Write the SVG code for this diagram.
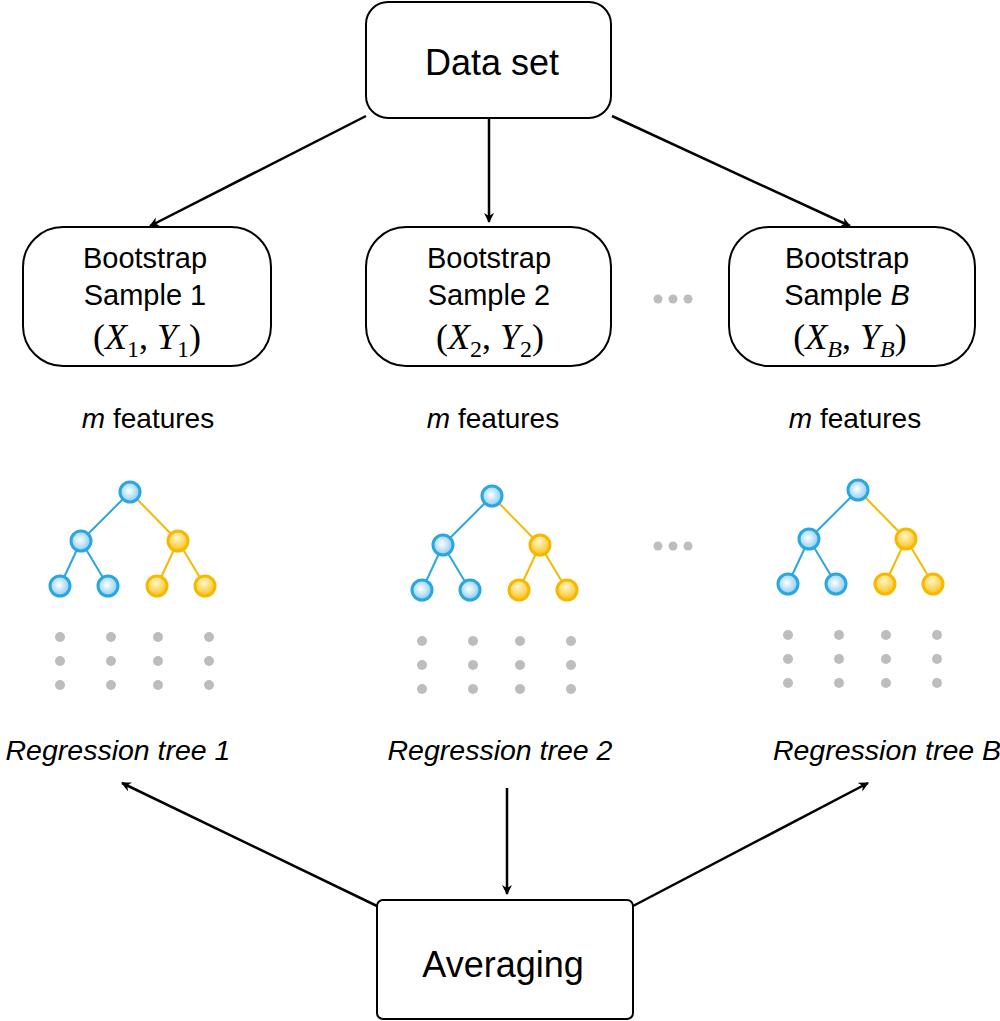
<svg xmlns="http://www.w3.org/2000/svg" width="1000" height="1021" viewBox="0 0 1000 1021">
<defs>
<marker id="ah" markerWidth="10" markerHeight="10" refX="9" refY="5" orient="auto" markerUnits="userSpaceOnUse"><path d="M0,0 L10,5 L0,10 L3,5 Z" fill="#000"/></marker>
<radialGradient id="gb" cx="0.45" cy="0.45" r="0.6"><stop offset="0" stop-color="#fff"/><stop offset="1" stop-color="#7cc8ee"/></radialGradient>
<radialGradient id="gy" cx="0.45" cy="0.35" r="0.65"><stop offset="0" stop-color="#fff6c8"/><stop offset="1" stop-color="#f8c21a"/></radialGradient>
<g id="tree">
<g fill="none" stroke-width="2"><path d="M0,0 L-49,49 M-49,49 L-70,94 M-49,49 L-22,94" stroke="#2aa6e0"/><path d="M0,0 L48,49 M48,49 L27,94 M48,49 L75,94" stroke="#f7b800"/></g>
<g stroke="#2aa6e0" stroke-width="3" fill="url(#gb)"><circle cx="0" cy="0" r="10"/><circle cx="-49" cy="49" r="10"/><circle cx="-70" cy="94" r="10"/><circle cx="-22" cy="94" r="10"/></g>
<g stroke="#f7b800" stroke-width="3" fill="url(#gy)"><circle cx="48" cy="49" r="10"/><circle cx="27" cy="94" r="10"/><circle cx="75" cy="94" r="10"/></g>
<g fill="#bdbdbd"><circle cx="-70" cy="145" r="5"/><circle cx="-19" cy="145" r="5"/><circle cx="28" cy="145" r="5"/><circle cx="79" cy="145" r="5"/><circle cx="-70" cy="169" r="5"/><circle cx="-19" cy="169" r="5"/><circle cx="28" cy="169" r="5"/><circle cx="79" cy="169" r="5"/><circle cx="-70" cy="193" r="5"/><circle cx="-19" cy="193" r="5"/><circle cx="28" cy="193" r="5"/><circle cx="79" cy="193" r="5"/></g>
</g>
</defs>
<style>
.box{fill:#fff;stroke:#000;stroke-width:2}
.t{font-family:"Liberation Sans",Arial,sans-serif;fill:#000;text-anchor:middle}
.m{font-family:"Liberation Serif","Times New Roman",serif;font-size:36px;fill:#000;text-anchor:middle}
.c{stroke:#000;stroke-width:2.5;fill:none;marker-end:url(#ah)}
</style>
<rect width="1000" height="1021" fill="#fff"/>
<g id="connectors">
<line class="c" x1="366" y1="116" x2="150" y2="226"/>
<line class="c" x1="489" y1="118" x2="489" y2="222"/>
<line class="c" x1="612" y1="116" x2="850" y2="226"/>
<line class="c" x1="377" y1="906" x2="122" y2="783"/>
<line class="c" x1="507" y1="788" x2="507" y2="894"/>
<line class="c" x1="633" y1="906" x2="868" y2="783"/>
</g>
<g id="dataset"><rect class="box" x="366" y="2" width="245" height="116" rx="22"/><text class="t" x="492" y="75" font-size="36">Data set</text></g>
<g id="b1"><rect class="box" x="23" y="227" width="248" height="139" rx="40"/><text class="t" x="145" y="268" font-size="29">Bootstrap</text><text class="t" x="145" y="305" font-size="29">Sample 1</text><text class="m" x="147" y="349">(<tspan font-style="italic">X</tspan><tspan font-size="24" dy="8">1</tspan><tspan dy="-8">, </tspan><tspan font-style="italic">Y</tspan><tspan font-size="24" dy="8">1</tspan><tspan dy="-8">)</tspan></text></g>
<g id="b2"><rect class="box" x="366" y="227" width="245" height="139" rx="40"/><text class="t" x="489" y="268" font-size="29">Bootstrap</text><text class="t" x="489" y="305" font-size="29">Sample 2</text><text class="m" x="490" y="349">(<tspan font-style="italic">X</tspan><tspan font-size="24" dy="8">2</tspan><tspan dy="-8">, </tspan><tspan font-style="italic">Y</tspan><tspan font-size="24" dy="8">2</tspan><tspan dy="-8">)</tspan></text></g>
<g id="b3"><rect class="box" x="729" y="227" width="246" height="139" rx="40"/><text class="t" x="847" y="268" font-size="29">Bootstrap</text><text class="t" x="847" y="305" font-size="29">Sample <tspan font-style="italic">B</tspan></text><text class="m" x="850" y="349">(<tspan font-style="italic">X</tspan><tspan font-size="24" font-style="italic" dy="8">B</tspan><tspan dy="-8">, </tspan><tspan font-style="italic">Y</tspan><tspan font-size="24" font-style="italic" dy="8">B</tspan><tspan dy="-8">)</tspan></text></g>
<g fill="#bdbdbd"><circle cx="658" cy="299" r="4.5"/><circle cx="673" cy="299" r="4.5"/><circle cx="688" cy="299" r="4.5"/><circle cx="658" cy="546" r="4.5"/><circle cx="673" cy="546" r="4.5"/><circle cx="688" cy="546" r="4.5"/></g>
<g id="f1"><text class="t" x="148" y="428" font-size="28"><tspan font-style="italic">m</tspan> features</text></g>
<g id="f2"><text class="t" x="493" y="428" font-size="28"><tspan font-style="italic">m</tspan> features</text></g>
<g id="f3"><text class="t" x="855" y="428" font-size="28"><tspan font-style="italic">m</tspan> features</text></g>
<g id="tree1"><use href="#tree" x="130" y="492"/><text class="t" x="118" y="760" font-size="28.5" font-style="italic">Regression tree 1</text></g>
<g id="tree2"><use href="#tree" x="492" y="496"/><text class="t" x="500" y="760" font-size="28.5" font-style="italic">Regression tree 2</text></g>
<g id="tree3"><use href="#tree" x="858" y="490"/><text class="t" x="887" y="760" font-size="28.5" font-style="italic">Regression tree B</text></g>
<g id="avg"><rect class="box" x="377" y="900" width="256" height="119" rx="6"/><text class="t" x="503" y="977" font-size="36">Averaging</text></g>
</svg>
